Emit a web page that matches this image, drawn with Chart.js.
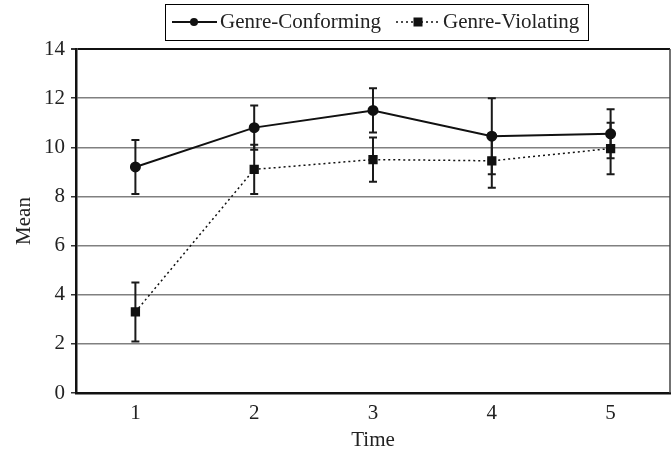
<!DOCTYPE html>
<html>
<head>
<meta charset="utf-8">
<script src="https://cdn.jsdelivr.net/npm/chart.js@4"></script>
<style>
  html, body { margin: 0; padding: 0; background: #fff; }
  #wrap { width: 672px; height: 455px; }
</style>
</head>
<body>
<div id="wrap"><canvas id="chart" width="672" height="455"></canvas></div>
<script>
const times = ['1', '2', '3', '4', '5'];
const conforming = [9.2, 10.8, 11.5, 10.45, 10.55];
const conformingErr = [1.1, 0.9, 0.9, 1.55, 1.0];
const violating = [3.3, 9.1, 9.5, 9.45, 9.95];
const violatingErr = [1.2, 1.0, 0.9, 1.1, 1.05];
const yTicks = [0, 2, 4, 6, 8, 10, 12, 14];

const FONT = '"Liberation Serif", "Times New Roman", serif';

// error bars, drawn under the markers
const errorBars = {
  id: 'errorBars',
  beforeDatasetsDraw(chart) {
    const ctx = chart.ctx;
    const x = chart.scales.x, y = chart.scales.y;
    const sets = [[conforming, conformingErr], [violating, violatingErr]];
    ctx.save();
    ctx.strokeStyle = '#1a1a1a';
    ctx.lineWidth = 2;
    sets.forEach(([vals, errs]) => {
      vals.forEach((v, i) => {
        const px = x.getPixelForValue(i);
        const top = y.getPixelForValue(v + errs[i]);
        const bot = y.getPixelForValue(v - errs[i]);
        ctx.beginPath();
        ctx.moveTo(px, top); ctx.lineTo(px, bot);
        ctx.moveTo(px - 4, top); ctx.lineTo(px + 4, top);
        ctx.moveTo(px - 4, bot); ctx.lineTo(px + 4, bot);
        ctx.stroke();
      });
    });
    ctx.restore();
  }
};

// frame on the right and the boxed legend at the top
const frameLegend = {
  id: 'frameLegend',
  afterDraw(chart) {
    const ctx = chart.ctx;
    const a = chart.chartArea;
    ctx.save();
    ctx.strokeStyle = '#444';
    ctx.lineWidth = 1.5;
    ctx.beginPath();
    ctx.moveTo(a.right, a.top); ctx.lineTo(a.right, a.bottom);
    ctx.stroke();

    ctx.strokeStyle = '#000';
    ctx.lineWidth = 1;
    ctx.strokeRect(165.5, 4.5, 423, 36);

    const cy = 22;
    // conforming
    ctx.lineWidth = 2;
    ctx.strokeStyle = '#111';
    ctx.beginPath(); ctx.moveTo(172, cy); ctx.lineTo(217, cy); ctx.stroke();
    ctx.fillStyle = '#111';
    ctx.beginPath(); ctx.arc(194, cy, 4, 0, Math.PI * 2); ctx.fill();
    // violating
    ctx.lineWidth = 1.5;
    ctx.setLineDash([2, 3]);
    ctx.beginPath(); ctx.moveTo(396, cy); ctx.lineTo(438, cy); ctx.stroke();
    ctx.setLineDash([]);
    ctx.fillRect(413.5, cy - 4.5, 9, 9);

    ctx.font = '21px ' + FONT;
    ctx.fillStyle = '#222';
    ctx.textBaseline = 'middle';
    ctx.fillText(chart.data.datasets[0].label, 220, cy);
    ctx.fillText(chart.data.datasets[1].label, 443, cy);
    ctx.restore();
  }
};

new Chart(document.getElementById('chart'), {
  type: 'line',
  data: {
    labels: times,
    datasets: [
      {
        label: 'Genre-Conforming',
        data: conforming,
        borderColor: '#111',
        backgroundColor: '#111',
        borderWidth: 2,
        pointStyle: 'circle',
        pointRadius: 4.5,
        tension: 0
      },
      {
        label: 'Genre-Violating',
        data: violating,
        borderColor: '#111',
        backgroundColor: '#111',
        borderWidth: 1.5,
        borderDash: [2, 3],
        pointStyle: 'rect',
        pointRadius: 5.5,
        tension: 0
      }
    ]
  },
  options: {
    responsive: false,
    animation: false,
    layout: { autoPadding: false, padding: { top: 49, right: 2, left: 0, bottom: 0 } },
    plugins: { legend: { display: false }, tooltip: { enabled: false } },
    scales: {
      x: {
        offset: true,
        grid: { display: false, drawTicks: false },
        border: { color: '#111', width: 2.5 },
        ticks: { color: '#222', font: { family: FONT, size: 21 }, padding: 8 },
        title: { display: true, text: 'Time', color: '#222', font: { family: FONT, size: 21 }, padding: { top: 0, bottom: 2 } },
        afterFit(s) { s.height = 62; s.paddingLeft = 0; s.paddingRight = 0; }
      },
      y: {
        min: 0,
        max: 14,
        afterBuildTicks(s) { s.ticks = yTicks.map(v => ({ value: v })); },
        grid: {
          color: ctx => ctx.tick && ctx.tick.value === 14 ? '#111' : '#808080',
          lineWidth: ctx => ctx.tick && ctx.tick.value === 14 ? 2 : 1.5,
          tickColor: '#333',
          tickLength: 5
        },
        border: { color: '#111', width: 2.5 },
        ticks: { color: '#222', font: { family: FONT, size: 21 }, padding: 6 },
        title: { display: true, text: 'Mean', color: '#222', font: { family: FONT, size: 21 }, padding: { top: 12, bottom: 0 } },
        afterFit(s) { s.width = 76; s.paddingTop = 0; s.paddingBottom = 0; }
      }
    }
  },
  plugins: [errorBars, frameLegend]
});
</script>
</body>
</html>
